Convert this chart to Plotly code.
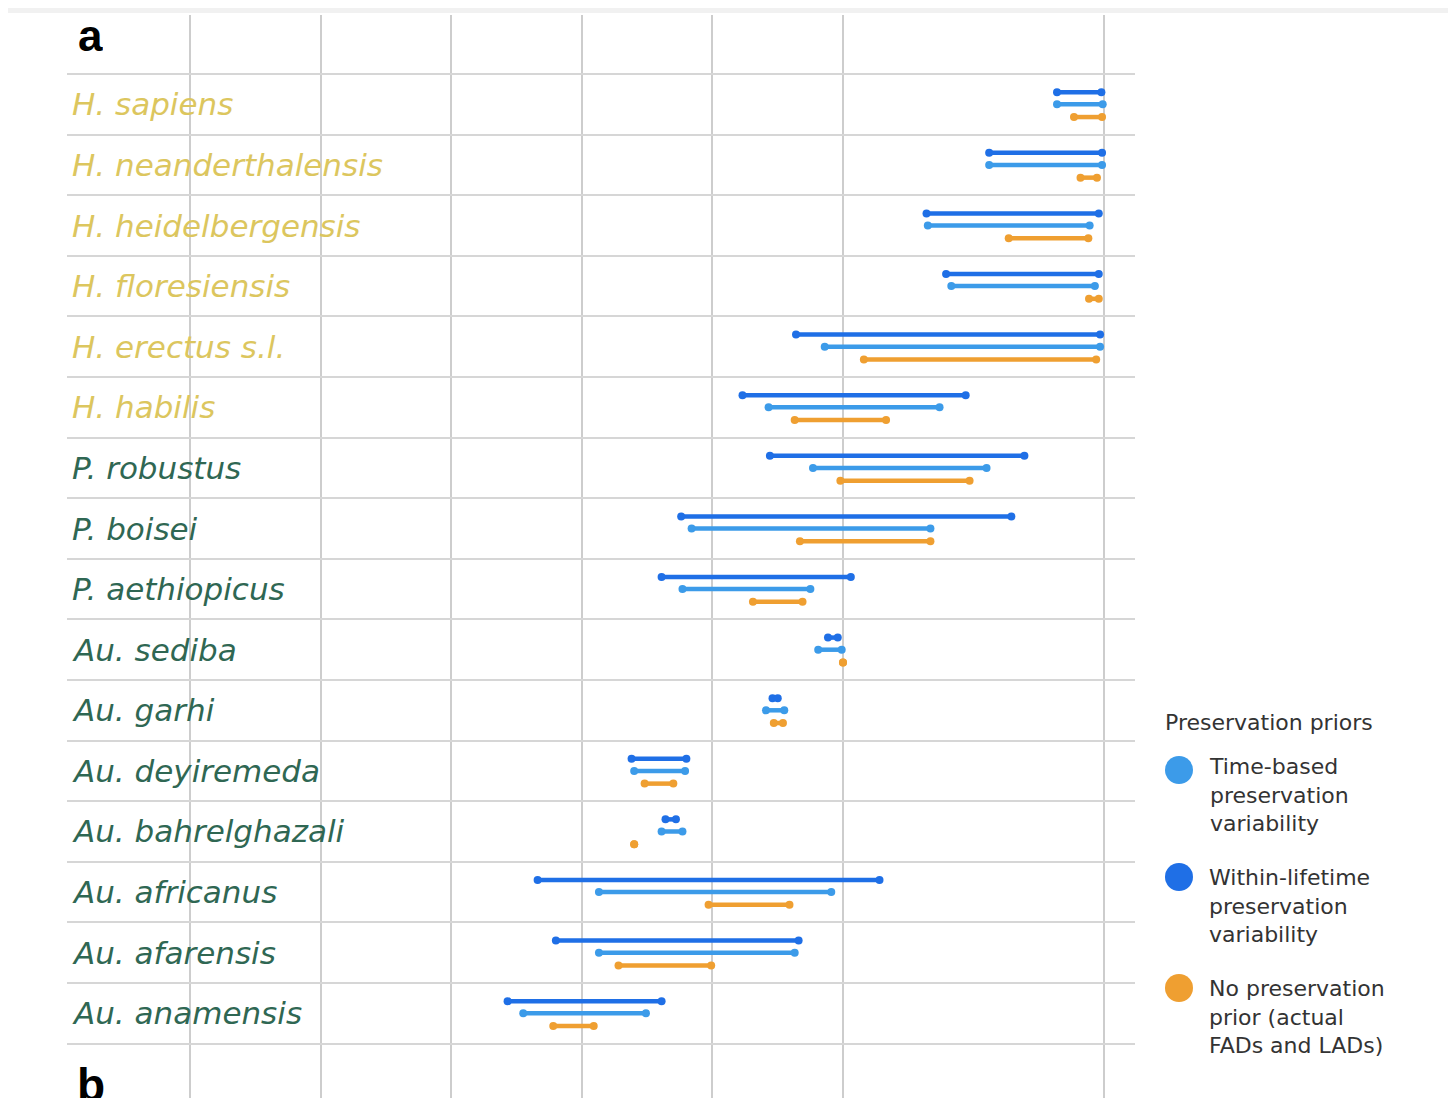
import plotly.graph_objects as go

# ---------------- data (Ma, millions of years ago) ----------------
species = ["H. sapiens", "H. neanderthalensis", "H. heidelbergensis", "H. floresiensis",
           "H. erectus s.l.", "H. habilis", "P. robustus", "P. boisei", "P. aethiopicus",
           "Au. sediba", "Au. garhi", "Au. deyiremeda", "Au. bahrelghazali",
           "Au. africanus", "Au. afarensis", "Au. anamensis"]
is_homo = [True] * 6 + [False] * 10

# Within-lifetime preservation variability (dark blue)
within_start = [0.36, 0.88, 1.36, 1.21, 2.36, 2.77, 2.56, 3.24, 3.39, 2.115, 2.54, 3.62, 3.36, 4.34, 4.20, 4.57]
within_end   = [0.02, 0.015, 0.04, 0.04, 0.03, 1.06, 0.61, 0.71, 1.94, 2.04, 2.50, 3.20, 3.28, 1.72, 2.34, 3.39]
# Time-based preservation variability (light blue)
time_start = [0.36, 0.88, 1.35, 1.17, 2.14, 2.57, 2.23, 3.16, 3.23, 2.19, 2.59, 3.60, 3.39, 3.87, 3.87, 4.45]
time_end   = [0.01, 0.015, 0.11, 0.07, 0.03, 1.26, 0.90, 1.33, 2.25, 2.01, 2.45, 3.21, 3.23, 2.09, 2.37, 3.51]
# No preservation prior (actual FADs and LADs) (orange)
none_start = [0.23, 0.18, 0.73, 0.115, 1.84, 2.37, 2.02, 2.33, 2.69, 2.00, 2.53, 3.52, 3.60, 3.03, 3.72, 4.22]
none_end   = [0.015, 0.054, 0.12, 0.04, 0.06, 1.67, 1.03, 1.33, 2.31, 2.00, 2.46, 3.30, 3.60, 2.41, 3.01, 3.91]

grid_ma = [0, 2, 3, 4, 5, 6, 7]

legend_title = "Preservation priors"
legend_labels = ["Time-based<br>preservation<br>variability",
                 "Within-lifetime<br>preservation<br>variability",
                 "No preservation<br>prior (actual<br>FADs and LADs)"]

# ---------------- styles ----------------
C_DARK = "#1f6fe6"
C_LIGHT = "#3c9be9"
C_ORANGE = "#ef9f31"
C_HOMO = "#dcc65e"
C_OTHER = "#2f6753"
legend_colors = [C_LIGHT, C_DARK, C_ORANGE]

W, H = 1448, 1090
n = len(species)

fig = go.Figure()


def add_series(starts, ends, offset, color):
    xs, ys = [], []
    for i, (s, e) in enumerate(zip(starts, ends)):
        xs += [s, e, None]
        ys += [i + offset, i + offset, None]
    fig.add_trace(go.Scatter(x=xs, y=ys, mode="lines+markers",
                             line=dict(color=color, width=4.5),
                             marker=dict(color=color, size=8),
                             showlegend=False, hoverinfo="skip"))


add_series(within_start, within_end, 0.30, C_DARK)
add_series(time_start, time_end, 0.50, C_LIGHT)
add_series(none_start, none_end, 0.71, C_ORANGE)

# species labels
for i, (name, homo) in enumerate(zip(species, is_homo)):
    fig.add_annotation(x=0, xref="x domain", xanchor="left", xshift=3,
                       y=i + 0.5, yref="y", yanchor="middle",
                       text="<i>" + name + "</i>", showarrow=False,
                       font=dict(family="DejaVu Sans", size=31,
                                 color=C_HOMO if homo else C_OTHER))

# panel letters
fig.add_annotation(x=0, xref="x domain", xanchor="left", xshift=9, y=-0.64, yref="y",
                   yanchor="middle", height=40, valign="middle",
                   text="<b>a</b>", showarrow=False,
                   font=dict(family="Liberation Sans", size=44, color="#000"))
fig.add_annotation(x=0, xref="x domain", xanchor="left", xshift=8, y=16.22, yref="y",
                   yanchor="top", text="<b>b</b>", showarrow=False,
                   font=dict(family="Liberation Sans", size=46, color="#000"))

# legend (drawn in page-pixel coordinates on an auxiliary axis)
fig.add_annotation(x=1163, y=722, xref="x2", yref="y2", xanchor="left", yanchor="middle",
                   text=legend_title, showarrow=False,
                   font=dict(family="DejaVu Sans", size=22, color="#333"))
leg_y = [770, 877, 988]
leg_text_top = [752, 863, 974]
for lab, col, yy, ty in zip(legend_labels, legend_colors, leg_y, leg_text_top):
    fig.add_trace(go.Scatter(x=[1179], y=[yy], xaxis="x2", yaxis="y2", mode="markers",
                             marker=dict(color=col, size=28), showlegend=False,
                             hoverinfo="skip"))
    fig.add_annotation(x=1207, y=ty, xref="x2", yref="y2", xanchor="left", yanchor="top",
                       text=lab, showarrow=False, align="left",
                       font=dict(family="DejaVu Sans", size=22, color="#333"))

# top grey band
fig.add_shape(type="rect", xref="paper", yref="paper", x0=0, x1=1, y0=1 - 5 / H, y1=1,
              fillcolor="#f1f1f1", line=dict(width=0), layer="below")

fig.update_layout(
    width=W, height=H, margin=dict(l=0, r=0, t=0, b=0),
    paper_bgcolor="white", plot_bgcolor="white",
    xaxis=dict(domain=[59 / W, 1127 / W], range=[7.946, -0.2375], tickvals=grid_ma,
               showticklabels=False, showgrid=True, gridcolor="#cdcdcd", gridwidth=1.5,
               zeroline=False, showline=False, ticks=""),
    yaxis=dict(domain=[0, 1 - 7 / H], range=[16.898, -0.974], tickvals=list(range(n + 1)),
               showticklabels=False, showgrid=True, gridcolor="#d6d6d6", gridwidth=1.5,
               zeroline=False, showline=False, ticks=""),
    xaxis2=dict(domain=[1127 / W, 1], range=[1135, 1456], visible=False, anchor="y2"),
    yaxis2=dict(domain=[0, 1], range=[1098, 8], visible=False, anchor="x2"),
    showlegend=False,
)

fig.write_html("out.html")
